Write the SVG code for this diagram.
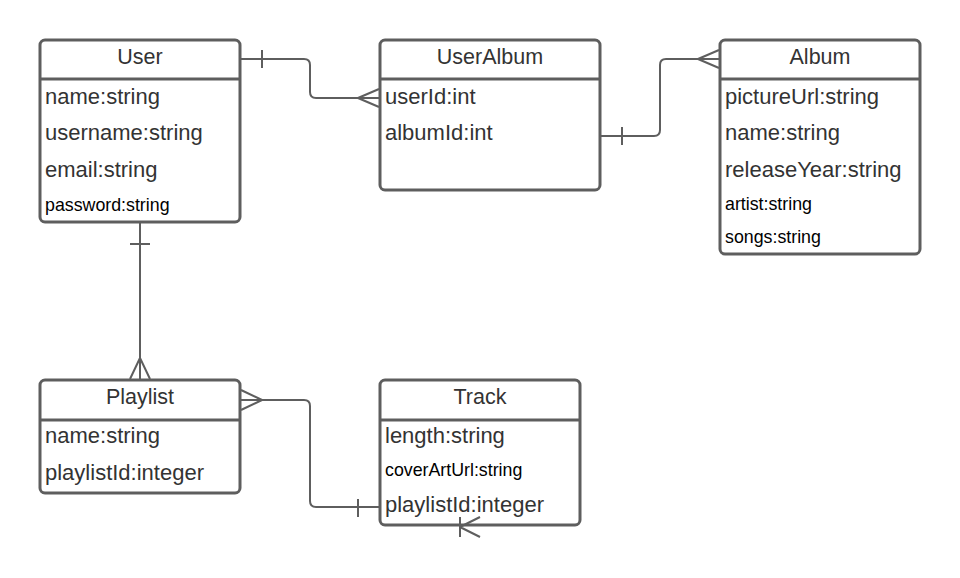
<svg xmlns="http://www.w3.org/2000/svg" width="960" height="578" viewBox="0 0 960 578">
<style>
.box{fill:#ffffff;stroke:#5e5e5e;stroke-width:3}
.sep{stroke:#5e5e5e;stroke-width:3}
.hd{font-family:"Liberation Sans",Arial,sans-serif;font-size:21.5px;fill:#333333;text-anchor:middle}
.f{font-family:"Liberation Sans",Arial,sans-serif;font-size:22px;fill:#333333}
.s{font-family:"Liberation Sans",Arial,sans-serif;font-size:17.8px;fill:#000000}
.c{fill:none;stroke:#5e5e5e;stroke-width:2}
</style>
<rect width="960" height="578" fill="#ffffff"/>
<g id="User">
<rect class="box" x="40" y="40" width="200" height="182" rx="5"/>
<line class="sep" x1="40" y1="79" x2="240" y2="79"/>
<text class="hd" x="140" y="64">User</text>
<text class="f" x="45" y="104">name:string</text>
<text class="f" x="45" y="140">username:string</text>
<text class="f" x="45" y="177">email:string</text>
<text class="s" x="45" y="211">password:string</text>
</g>
<g id="UserAlbum">
<rect class="box" x="380" y="40" width="220" height="150" rx="5"/>
<line class="sep" x1="380" y1="79" x2="600" y2="79"/>
<text class="hd" x="490" y="64">UserAlbum</text>
<text class="f" x="385" y="104">userId:int</text>
<text class="f" x="385" y="140">albumId:int</text>
</g>
<g id="Album">
<rect class="box" x="720" y="40" width="200" height="214" rx="5"/>
<line class="sep" x1="720" y1="79" x2="920" y2="79"/>
<text class="hd" x="820" y="64">Album</text>
<text class="f" x="725" y="104">pictureUrl:string</text>
<text class="f" x="725" y="140">name:string</text>
<text class="f" x="725" y="177">releaseYear:string</text>
<text class="s" x="725" y="210">artist:string</text>
<text class="s" x="725" y="243">songs:string</text>
</g>
<g id="Playlist">
<rect class="box" x="40" y="380" width="200" height="113" rx="5"/>
<line class="sep" x1="40" y1="420" x2="240" y2="420"/>
<text class="hd" x="140" y="404">Playlist</text>
<text class="f" x="45" y="443">name:string</text>
<text class="f" x="45" y="480">playlistId:integer</text>
</g>
<g id="Track">
<rect class="box" x="380" y="380" width="200" height="145" rx="5"/>
<line class="sep" x1="380" y1="420" x2="580" y2="420"/>
<text class="hd" x="480" y="404">Track</text>
<text class="f" x="385" y="443">length:string</text>
<text class="s" x="385" y="476">coverArtUrl:string</text>
<text class="f" x="385" y="512">playlistId:integer</text>
</g>
<g id="connectors">
<path class="c" d="M241,59 H304 Q310,59 310,65 V92 Q310,98 316,98 H379"/>
<path class="c" d="M262,50 V68 M358,98 L379,89 M358,98 L379,107"/>
<path class="c" d="M601,136 H654 Q660,136 660,130 V65 Q660,59 666,59 H719"/>
<path class="c" d="M622,127 V145 M698,59 L719,50 M698,59 L719,68"/>
<path class="c" d="M140,223 V379"/>
<path class="c" d="M130,244 H150 M140,358 L130,379 M140,358 L150,379"/>
<path class="c" d="M241,400 H304 Q310,400 310,406 V501 Q310,507 316,507 H379"/>
<path class="c" d="M262,400 L241,390 M262,400 L241,410 M358,499 V517"/>
<path class="c" d="M460,517 V537 M460,527 L480,517 M460,527 L480,537"/>
</g>
</svg>
